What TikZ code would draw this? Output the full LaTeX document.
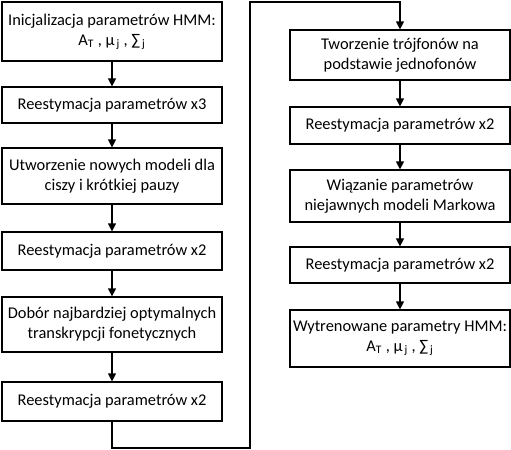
\documentclass[tikz,border=0pt]{standalone}
\usepackage{fontspec}
\setmainfont{Carlito}
\usetikzlibrary{arrows.meta}
\newcommand{\subsp}[1]{\textsubscript{\,#1}}
\begin{document}
\begin{tikzpicture}[x=0.75pt,y=-0.75pt,
  stepbox/.style={draw,line width=0.9pt,minimum width=220*0.75pt,inner sep=0pt,
    align=center,font=\fontsize{12.3pt}{15pt}\selectfont},
  conn/.style={line width=0.9pt,-{Triangle[length=6pt,width=6pt]}}]
\useasboundingbox (0,0) rectangle (511,450);
\node[stepbox,minimum height=59*0.75pt] (a1) at (112,31.5) {Inicjalizacja parametrów HMM:\\A\textsubscript{T} , µ\subsp{j} , ∑\subsp{j}};
\node[stepbox,minimum height=36*0.75pt] (a2) at (112,105) {Reestymacja parametrów x3};
\node[stepbox,minimum height=56*0.75pt] (a3) at (112,176) {Utworzenie nowych modeli dla\\ciszy i krótkiej pauzy};
\node[stepbox,minimum height=38*0.75pt] (a4) at (112,251) {Reestymacja parametrów x2};
\node[stepbox,minimum height=55*0.75pt] (a5) at (112,324.5) {Dobór najbardziej optymalnych\\transkrypcji fonetycznych};
\node[stepbox,minimum height=39*0.75pt] (a6) at (112,401.5) {Reestymacja parametrów x2};
\node[stepbox,minimum height=50*0.75pt] (b1) at (400,55) {Tworzenie trójfonów na\\podstawie jednofonów};
\node[stepbox,minimum height=37*0.75pt] (b2) at (400,125.5) {Reestymacja parametrów x2};
\node[stepbox,minimum height=52*0.75pt] (b3) at (400,196) {Wiązanie parametrów\\niejawnych modeli Markowa};
\node[stepbox,minimum height=36*0.75pt] (b4) at (400,265) {Reestymacja parametrów x2};
\node[stepbox,minimum height=57*0.75pt] (b5) at (400,338.5) {Wytrenowane parametry HMM:\\A\textsubscript{T} , µ\subsp{j} , ∑\subsp{j}};
\coordinate (l1) at (112,448);
\coordinate (l2) at (250,448);
\coordinate (l3) at (250,2);
\coordinate (l4) at (400,2);
\draw[conn] (a1) -- (a2);
\draw[conn] (a2) -- (a3);
\draw[conn] (a3) -- (a4);
\draw[conn] (a4) -- (a5);
\draw[conn] (a5) -- (a6);
\draw[conn] (a6.south) -- (l1) -- (l2) -- (l3) -- (l4) -- (b1.north);
\draw[conn] (b1) -- (b2);
\draw[conn] (b2) -- (b3);
\draw[conn] (b3) -- (b4);
\draw[conn] (b4) -- (b5);
\end{tikzpicture}
\end{document}
